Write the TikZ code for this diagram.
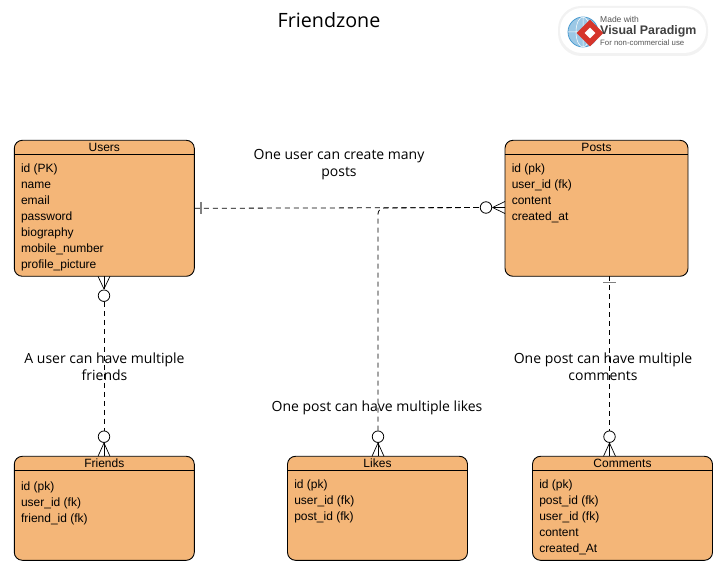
\documentclass[tikz,border=0pt]{standalone}
\usepackage{fontspec}
\setmainfont{Liberation Sans}
\newfontfamily\notefont{Open Sans}
\usetikzlibrary{positioning,shapes.geometric}

\definecolor{entityfill}{HTML}{F4B678}
\definecolor{vpgray}{HTML}{555555}
\definecolor{vpblue}{HTML}{4A9BD0}
\definecolor{vpred}{HTML}{D6352B}

\tikzset{
    entity/.style={draw,fill=entityfill,rounded corners=8pt,line width=0.9pt,minimum width=180pt,inner sep=0pt},
    entitytitle/.style={anchor=north,inner sep=0pt,minimum height=14pt,font=\fontsize{12}{14}\selectfont},
    attrs/.style={anchor=north west,inner sep=0pt,align=left,font=\fontsize{12}{16}\selectfont},
    note/.style={align=center,inner sep=0pt,font=\notefont\fontsize{14}{17}\selectfont},
    ring/.style={draw,circle,fill=white,minimum size=11.5pt,inner sep=0pt,line width=0.8pt},
    rel/.style={line width=0.8pt,dash pattern=on 5pt off 4pt},
    foot/.style={line width=0.7pt},
    bar/.style={draw=gray,line width=1.4pt}
}

\begin{document}
\begin{tikzpicture}[x=1pt,y=-1pt]
    \useasboundingbox (0,0) rectangle (713,561);

    % title
    \node[note,font=\notefont\fontsize{19.7}{22}\selectfont] (title) at (329,20) {Friendzone};

    % badge top right
    \fill[black!5,rounded corners=23pt] (558,6) rectangle (708,56);
    \fill[white,rounded corners=22pt] (560,8) rectangle (706,53);
    \fill[vpblue!55] (583,32) circle (15);
    \draw[vpblue,line width=0.8pt] (583,32) circle (15);
    \draw[white,line width=0.5pt] (568,32) -- (598,32) (583,17) -- (583,47) (583,32) ellipse (7 and 15);
    \node[diamond,fill=vpred,minimum size=27pt,inner sep=0pt] (vpmark) at (590,33) {};
    \node[diamond,fill=white,minimum size=11pt,inner sep=0pt] at (vpmark) {};
    \node[anchor=west,inner sep=0pt,text=vpgray,font=\fontsize{8.5}{10}\selectfont] (vpmade) at (600,19) {Made with};
    \node[anchor=west,inner sep=0pt,text=black!75,font=\bfseries\fontsize{12.4}{14}\selectfont] (vpname) at (600,31.5) {Visual Paradigm};
    \node[anchor=west,inner sep=0pt,text=vpgray,font=\fontsize{7.8}{10}\selectfont] (vpuse) at (600,43) {For non-commercial use};

    % entities
    \node[entity,minimum height=136pt] (users) at (104.3,208.3) {};
    \node[entity,minimum height=136pt,minimum width=183pt] (posts) at (596.5,208.3) {};
    \node[entity,minimum height=104pt] (friends) at (104.3,508.3) {};
    \node[entity,minimum height=104pt] (likes) at (377.5,508.3) {};
    \node[entity,minimum height=104pt] (comments) at (622.5,508.3) {};

    % header rules and titles
    \foreach \ent/\txt in {users/Users,posts/Posts,friends/Friends,likes/Likes,comments/Comments}{
        \draw[line width=0.9pt] ([yshift=-14.3pt]\ent.north west) -- ([yshift=-14.3pt]\ent.north east);
        \node[entitytitle] at (\ent.north) {\txt};
    }

    % attributes
    \node[attrs] (usersattrs) at ([shift={(7,23.5)}]users.north west) {id (PK)\\name\\email\\password\\biography\\mobile\_number\\profile\_picture};
    \node[attrs] (postsattrs) at ([shift={(7,23.5)}]posts.north west) {id (pk)\\user\_id (fk)\\content\\created\_at};
    \node[attrs] (friendsattrs) at ([shift={(7,25.5)}]friends.north west) {id (pk)\\user\_id (fk)\\friend\_id (fk)};
    \node[attrs] (likesattrs) at ([shift={(7,23.5)}]likes.north west) {id (pk)\\user\_id (fk)\\post\_id (fk)};
    \node[attrs] (commentsattrs) at ([shift={(7,23.5)}]comments.north west) {id (pk)\\post\_id (fk)\\user\_id (fk)\\content\\created\_At};

    % rings
    \node[ring] (usersring) at (104,295.7) {};
    \node[ring] (friendsring) at (104,436.7) {};
    \node[ring] (likesring) at (378,436.7) {};
    \node[ring] (commentsring) at (609.5,436.7) {};
    \node[ring] (postsring) at (486,207.5) {};

    % fixed ends
    \coordinate (likesbend) at (378,208);
    \coordinate (usersexit) at (users.east);
    \coordinate (commentsup) at (609.5,276.3);

    % users to posts, likes joins it
    \draw[rel] (usersexit) -- (postsring);
    \draw[rel,rounded corners=6pt] (likesring) -- (likesbend) -- (postsring);
    % users to friends
    \draw[rel] (usersring) -- (friendsring);
    % posts to comments
    \draw[rel] (commentsup) -- (commentsring);

    % single bars
    \draw[bar] (201,202) -- (201,214.5);
    \draw[bar] (603,282.7) -- (616,282.7);

    % crow feet
    \foreach \dy in {-6,0,6}
        \draw[foot] (492.5,207.5) -- (505,207.5+\dy);
    \foreach \dx in {-6,0,6}{
        \draw[foot] (104,289) -- (104+\dx,276.3);
        \draw[foot] (104,443) -- (104+\dx,456.3);
        \draw[foot] (378,443) -- (378+\dx,456.3);
        \draw[foot] (609.5,443) -- (609.5+\dx,456.3);
    }

    % notes
    \node[note] (createnote) at (339,165) {One user can create many\\posts};
    \node[note] (friendsnote) at (104.5,367) {A user can have multiple\\friends};
    \node[note] (likesnote) at (377,408) {One post can have multiple likes};
    \node[note] (commentsnote) at (603,367) {One post can have multiple\\comments};
\end{tikzpicture}
\end{document}
